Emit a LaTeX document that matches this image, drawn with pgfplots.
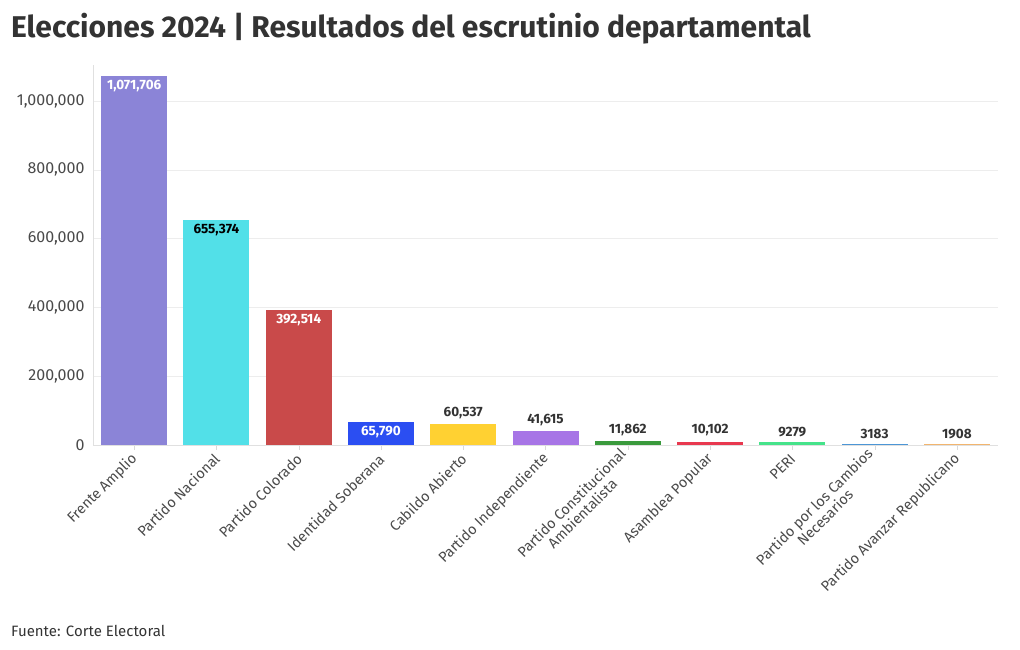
\documentclass[border=0pt]{standalone}
\usepackage{pgfplots}
\pgfplotsset{compat=1.18}
\usepackage{fontspec}
\setmainfont{Fira Sans}
\definecolor{cFA}{HTML}{8B84D7}
\definecolor{cPN}{HTML}{52E0E8}
\definecolor{cPC}{HTML}{C94A4A}
\definecolor{cIS}{HTML}{2B4EF2}
\definecolor{cCA}{HTML}{FFD132}
\definecolor{cPI}{HTML}{A775E6}
\definecolor{cCO}{HTML}{3A9A3C}
\definecolor{cAP}{HTML}{E8384F}
\definecolor{cPE}{HTML}{45E38A}
\definecolor{cCN}{HTML}{4C96D6}
\definecolor{cAR}{HTML}{F2B56E}
\definecolor{txt}{HTML}{333333}
\definecolor{tick}{HTML}{4A4A4A}
\begin{document}
\begin{tikzpicture}
\useasboundingbox (0pt,0pt) rectangle (1020pt,650pt);
\node[anchor=base west, inner sep=0, text=txt, font=\bfseries\fontsize{30}{33}\selectfont] at (11pt,612pt) {Elecciones 2024 | Resultados del escrutinio departamental};
\node[anchor=base west, inner sep=0, text=txt, font=\fontsize{15}{17}\selectfont] at (11pt,13pt) {Fuente: Corte Electoral};
\begin{axis}[
  at={(93pt,205pt)}, anchor=south west,
  width=905pt, height=380pt, scale only axis,
  ybar, bar width=66pt,
  xmin=-0.5, xmax=10.5, ymin=0, ymax=1105000,
  scaled y ticks=false,
  ytick={0,200000,400000,600000,800000,1000000},
  yticklabels={0,{200,000},{400,000},{600,000},{800,000},{1,000,000}},
  xtick={0,...,10},
  xticklabels={Frente Amplio, Partido Nacional, Partido Colorado, Identidad Soberana, Cabildo Abierto, Partido Independiente, {Partido Constitucional\\Ambientalista}, Asamblea Popular, PERI, {Partido por los Cambios\\Necesarios}, Partido Avanzar Republicano},
  axis x line*=bottom, axis y line*=left,
  axis line style={draw=black!12},
  ymajorgrids, grid style={draw=black!7},
  ytick style={draw=none},
  xtick style={draw=black!15},
  tick align=outside, major tick length=5pt,
  yticklabel style={text=tick, font=\fontsize{16}{18}\selectfont},
  xticklabel style={text=tick, font=\fontsize{14.5}{15.5}\selectfont, align=center, xshift=3pt, yshift=-4pt, rotate=45, anchor=east},
  point meta=explicit symbolic,
  inlab/.style={every node near coord/.style={anchor=north, inner sep=2pt, yshift=-2pt, font=\bfseries\fontsize{13.5}{15}\selectfont}},
  outlab/.style={nodes near coords={\pgfplotspointmeta}, every node near coord/.style={anchor=south, inner sep=2pt, yshift=3pt, text=txt, font=\bfseries\fontsize{13.5}{15}\selectfont}},
]
\addplot[bar shift=0pt, fill=cFA, draw=none, inlab, nodes near coords={\textcolor{white}{\pgfplotspointmeta}}] coordinates {(0,1071706) [1,071,706]};
\addplot[bar shift=0pt, fill=cPN, draw=none, inlab, nodes near coords={\textcolor{black}{\pgfplotspointmeta}}] coordinates {(1,655374) [655,374]};
\addplot[bar shift=0pt, fill=cPC, draw=none, inlab, nodes near coords={\textcolor{white}{\pgfplotspointmeta}}] coordinates {(2,392514) [392,514]};
\addplot[bar shift=0pt, fill=cIS, draw=none, inlab, nodes near coords={\textcolor{white}{\pgfplotspointmeta}}] coordinates {(3,65790) [65,790]};
\addplot[bar shift=0pt, fill=cCA, draw=none, outlab] coordinates {(4,60537) [60,537]};
\addplot[bar shift=0pt, fill=cPI, draw=none, outlab] coordinates {(5,41615) [41,615]};
\addplot[bar shift=0pt, fill=cCO, draw=none, outlab] coordinates {(6,11862) [11,862]};
\addplot[bar shift=0pt, fill=cAP, draw=none, outlab] coordinates {(7,10102) [10,102]};
\addplot[bar shift=0pt, fill=cPE, draw=none, outlab] coordinates {(8,9279) [9279]};
\addplot[bar shift=0pt, fill=cCN, draw=none, outlab] coordinates {(9,3183) [3183]};
\addplot[bar shift=0pt, fill=cAR, draw=none, outlab] coordinates {(10,1908) [1908]};
\end{axis}
\end{tikzpicture}
\end{document}
